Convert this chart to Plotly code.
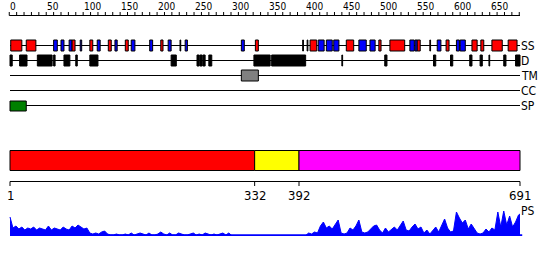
import plotly.graph_objects as go

# ---------------- data ----------------
SEQ_LEN = 691
RULER_TICKS = list(range(0, 691, 10))
RULER_LABELS = list(range(0, 691, 50))

# secondary structure: H = helix (red), E = strand (blue), T = thin black mark
ss_start = [2, 23, 60, 70, 81, 85, 96, 109, 119, 134, 143, 157, 165, 190, 205, 215, 231, 238,
            314, 333, 397, 403, 407, 418, 429, 439, 456, 473, 488, 500, 515, 542, 549, 552,
            569, 579, 591, 605, 610, 626, 638, 653, 675]
ss_end = [17, 36, 65, 74, 85, 89, 98, 113, 123, 138, 146, 161, 170, 194, 208, 219, 232, 241,
          318, 337, 398, 404, 416, 426, 437, 446, 466, 483, 495, 503, 535, 548, 552, 556,
          570, 584, 595, 609, 617, 633, 642, 667, 687]
ss_type = ["H", "H", "E", "E", "E", "H", "E", "H", "E", "H", "E", "H", "E", "E", "H", "E", "T", "E",
           "E", "H", "T", "T", "H", "E", "E", "E", "H", "E", "E", "H", "H", "E", "E", "H",
           "H", "E", "H", "E", "E", "H", "H", "H", "H"]

# disorder
dis_start = [1, 14, 38, 60, 74, 90, 109, 219, 254, 258, 262, 270, 331, 355, 450, 508, 574, 597,
             623, 637, 649, 669, 685]
dis_end = [4, 24, 58, 62, 82, 92, 120, 226, 257, 261, 265, 274, 353, 401, 451, 511, 577, 600,
           626, 640, 650, 672, 691]

tm_start, tm_end = [314], [337]
cc_start, cc_end = [], []
sp_start, sp_end = [1], [23]

dom_start = [1, 332, 392]
dom_end = [332, 392, 691]
dom_color = ["#FF0000", "#FFFF00", "#FF00FF"]
dom_labels = [1, 332, 392, 691]

# PS profile (sampled every 4 residues)
ps_pos = list(range(1, 690, 4)) + [691]
ps_val = [19, 8, 10, 7, 9, 6, 8, 7, 9, 6, 8, 7, 6, 10, 6, 8, 7, 6, 9, 7,
          6, 10, 8, 11, 9, 7, 8, 3, 2, 3, 2, 4, 5, 2, 1, 1, 2, 1, 1, 2,
          1, 3, 1, 2, 3, 2, 1, 3, 1, 1, 2, 4, 2, 1, 3, 1, 1, 3, 2, 1,
          1, 2, 3, 1, 2, 1, 3, 2, 1, 2, 1, 2, 3, 1, 3, 0.5, 0.5, 0.5, 0.5, 0.5,
          0.5, 0.5, 0.5, 0.5, 0.5, 0.5, 0.5, 0.5, 0.5, 0.5, 0.5, 0.5, 0.5, 0.5, 0.5, 0.5,
          0.5, 0.5, 1, 0.5, 0.5, 3, 2, 4, 3, 10, 14, 8, 10, 7, 12, 16, 3, 2, 3,
          8, 6, 10, 16, 4, 3, 4, 7, 10, 11, 6, 3, 8, 4, 7, 9, 6, 11, 15, 6,
          5, 9, 12, 7, 9, 3, 6, 2, 5, 9, 4, 11, 17, 8, 4, 5, 24, 18, 13, 16,
          7, 12, 8, 3, 2, 3, 7, 4, 8, 6, 24, 9, 25, 11, 20, 9, 14, 21, 22]

TRACKS = ["SS", "D", "TM", "CC", "SP"]

# ---------------- layout helpers ----------------
W, H = 550, 260
k = 510 / 690.0
xmin = 1 - 10 / k
xmax = 691 + 30 / k
track_y = {"SS": 45.5, "D": 60.5, "TM": 75.5, "CC": 90.5, "SP": 105.5}
half = 5.5
FONT = "DejaVu Sans Condensed, Liberation Sans Narrow, DejaVu Sans"
ss_color = {"H": "#FF0000", "E": "#0000FF", "T": "#000000"}


def py(v):
    """pixel row (from top) -> paper fraction"""
    return 1 - v / H


shapes = []
annotations = []


def hline(x0, x1, y, width=1, color="black"):
    shapes.append(dict(type="line", xref="x", yref="paper", x0=x0, x1=x1, y0=py(y), y1=py(y),
                       line=dict(color=color, width=width)))


def vline(x, y0, y1):
    shapes.append(dict(type="line", xref="x", yref="paper", x0=x, x1=x, y0=py(y0), y1=py(y1),
                       line=dict(color="black", width=1)))


def label(x, y, text, size, anchor="left", shift=-1):
    annotations.append(dict(x=x, y=py(y), xref="x", yref="paper", text=text, showarrow=False,
                            xanchor=anchor, yanchor="middle", xshift=shift,
                            font=dict(family=FONT, size=size, color="black")))


def box(x0, x1, yc, fill, hh=half):
    shapes.append(dict(type="rect", xref="x", yref="paper", x0=x0, x1=x1,
                       y0=py(yc - hh), y1=py(yc + hh),
                       fillcolor=fill, line=dict(color="black", width=1)))


# ruler
hline(RULER_TICKS[0], SEQ_LEN, 15.5)
for t in RULER_TICKS:
    vline(t, 12, 15.5)
for t in RULER_LABELS:
    label(t, 6, str(t), 10)

# track lines
for name in TRACKS:
    y = track_y[name]
    hline(1, SEQ_LEN, y)
    label(SEQ_LEN, y, name, 12)

for s, e, t in zip(ss_start, ss_end, ss_type):
    box(s, e, track_y["SS"], ss_color[t])
for s, e in zip(dis_start, dis_end):
    box(s, e, track_y["D"], "#000000")
for s, e in zip(tm_start, tm_end):
    box(s, e, track_y["TM"], "#808080")
for s, e in zip(cc_start, cc_end):
    box(s, e, track_y["CC"], "#FFA500")
for s, e in zip(sp_start, sp_end):
    box(s, e, track_y["SP"] + 0.5, "#008000", 5)

# domain bar
for s, e, c in zip(dom_start, dom_end, dom_color):
    shapes.append(dict(type="rect", xref="x", yref="paper", x0=s, x1=e, y0=py(150.5), y1=py(170.5),
                       fillcolor=c, line=dict(color="black", width=1)))

# bottom axis
hline(dom_labels[0], dom_labels[-1], 181.5)
for t in dom_labels:
    vline(t, 181.5, 186)
    label(t, 195, str(t), 13, anchor="center", shift=0)

# PS label
label(SEQ_LEN, 211, "PS", 12)

fig = go.Figure()
fig.add_trace(go.Scatter(x=ps_pos, y=ps_val, mode="lines", fill="tozeroy",
                         line=dict(color="#0000FF", width=1), fillcolor="#0000FF",
                         hoverinfo="skip", showlegend=False))
fig.add_trace(go.Scatter(x=[ps_pos[0], ps_pos[-1] + 3], y=[0.6, 0.6], mode="lines",
                         line=dict(color="#0000FF", width=2.5),
                         hoverinfo="skip", showlegend=False))

fig.update_layout(
    width=W, height=H, margin=dict(l=0, r=0, t=0, b=0),
    paper_bgcolor="white", plot_bgcolor="white",
    showlegend=False,
    xaxis=dict(range=[xmin, xmax], visible=False, fixedrange=True),
    yaxis=dict(range=[0, 26], visible=False, domain=[(H - 236) / H, (H - 210) / H],
               fixedrange=True),
    shapes=shapes,
    annotations=annotations,
)

fig.write_html("out.html")
